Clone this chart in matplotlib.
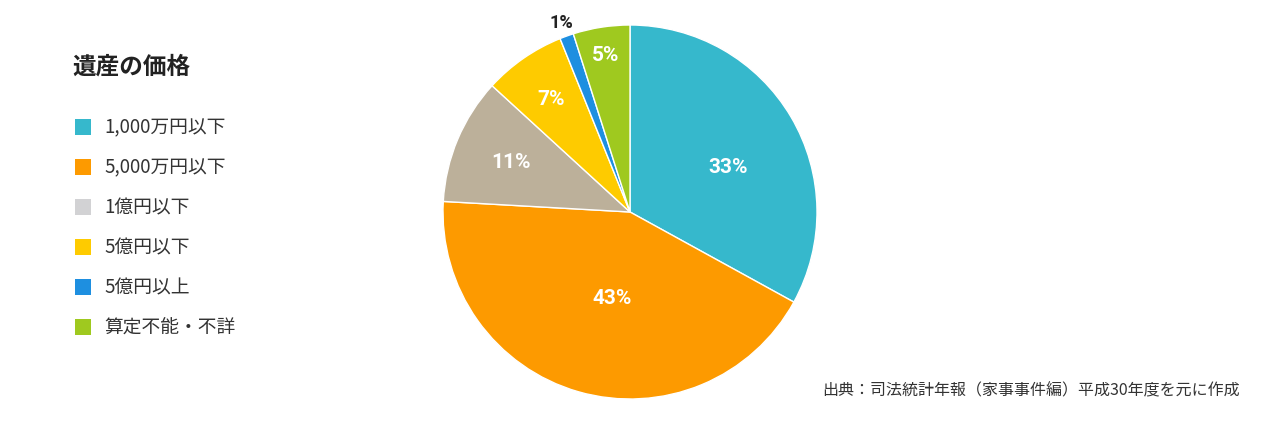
import matplotlib
matplotlib.use("Agg")
import matplotlib.pyplot as plt
import numpy as np
from matplotlib.patches import Rectangle

plt.rcParams['font.family'] = ['Noto Sans CJK JP', 'DejaVu Sans']

title = "遺産の価格"
categories = ["1,000万円以下", "5,000万円以下", "1億円以下", "5億円以下", "5億円以上", "算定不能・不詳"]
values = [33.0, 42.9, 10.9, 7.1, 1.2, 4.9]
pct_labels = ["33%", "43%", "11%", "7%", "1%", "5%"]
pie_colors = ["#36b8cc", "#fd9a00", "#bcb09a", "#fecb00", "#1e8fe0", "#9fc91f"]
legend_colors = ["#36b8cc", "#fd9a00", "#d2d2d4", "#fecb00", "#1e8fe0", "#9fc91f"]
source = "出典：司法統計年報（家事事件編）平成30年度を元に作成"

W, H = 1280, 427
fig = plt.figure(figsize=(W / 100, H / 100), dpi=100)
fig.patch.set_facecolor("white")

cx, cy, r = 630, 213, 187
ax = fig.add_axes([(cx - r) / W, (H - cy - r) / H, 2 * r / W, 2 * r / H])
wedges, _ = ax.pie(values, colors=pie_colors, startangle=90, counterclock=False,
                   radius=1.0, wedgeprops=dict(edgecolor="white", linewidth=1.0))
ax.set_xlim(-1, 1)
ax.set_ylim(-1, 1)
ax.set_aspect("equal")
ax.axis("off")

label_r = [0.58, 0.47, 0.69, 0.74, 1.08, 0.85]
label_shift = [-6, 4, 0, 0, 0, 0]
for w, lab, lr, sh in zip(wedges, pct_labels, label_r, label_shift):
    mid = np.deg2rad((w.theta1 + w.theta2) / 2 + sh)
    outside = lr > 1
    ax.text(lr * np.cos(mid), lr * np.sin(mid), lab, ha="center", va="center",
            fontsize=15 if not outside else 13, fontweight="bold",
            family=["Roboto", "DejaVu Sans"],
            color="white" if not outside else "#222222", clip_on=False)

ov = fig.add_axes([0, 0, 1, 1])
ov.set_xlim(0, W)
ov.set_ylim(H, 0)
ov.axis("off")
ov.patch.set_alpha(0)

ov.text(72, 67, title, fontsize=17, fontweight="bold", color="#222222", ha="left", va="center")
for i, (cat, col) in enumerate(zip(categories, legend_colors)):
    y = 128 + 40 * i
    ov.add_patch(Rectangle((75, y - 8), 16, 16, facecolor=col, edgecolor="none"))
    ov.text(104, y, cat, fontsize=13.5, color="#333333", ha="left", va="center")

ov.text(1240, 391, source, fontsize=11.5, color="#333333", ha="right", va="center")

fig.savefig("out.png", dpi=100, facecolor="white")
